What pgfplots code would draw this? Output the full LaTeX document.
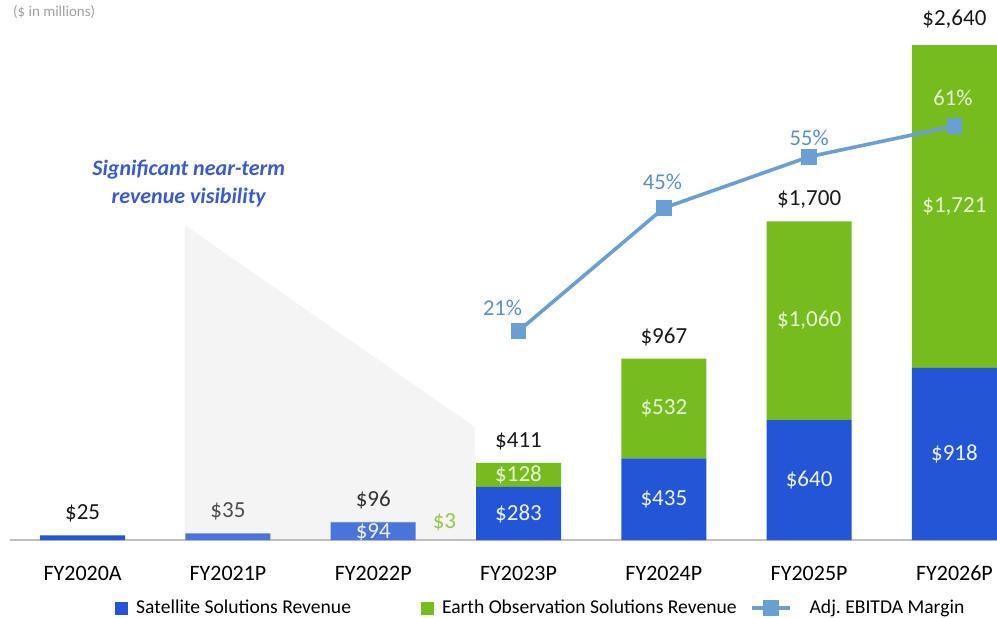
\documentclass[border=0pt]{standalone}
\usepackage{fontspec}
\setmainfont{Carlito}
\usepackage{pgfplots}
\pgfplotsset{compat=1.18}
\definecolor{satblue}{HTML}{2355D6}
\definecolor{satlight}{HTML}{4A74DC}
\definecolor{eogreen}{HTML}{77BC1F}
\definecolor{lineblue}{HTML}{6A9FD4}
\definecolor{pctblue}{HTML}{5B8FCB}
\definecolor{notblue}{HTML}{3A5BD0}
\definecolor{wedgegray}{HTML}{F4F4F4}
\definecolor{lblgreen}{HTML}{E6F4D6}
\definecolor{lblblue}{HTML}{EEF2FC}

\pgfplotsset{
  base/.style={at={(5pt,38.5pt)}, anchor=south west,
    width=493.5pt, height=262.5pt, scale only axis,
    xmin=-0.5, xmax=6.293, clip=false},
}
\tikzset{lbl/.style={font=\fontsize{11.5}{13}\selectfont}}

\begin{document}
\begin{tikzpicture}
\useasboundingbox (0,0) rectangle (498.5pt,308.5pt);
\node[anchor=west, text=gray!75, font=\fontsize{7.5}{9}\selectfont] at (3pt,302.5pt) {(\$ in millions)};

% shaded visibility wedge (behind everything)
\begin{axis}[base, ymin=0, ymax=2800, hide axis]
\fill[wedgegray] (axis cs:0.702,0) -- (axis cs:0.702,1680)
  -- (axis cs:2.698,603) -- (axis cs:2.698,0) -- cycle;
\node[font=\bfseries\itshape\fontsize{11}{14}\selectfont, text=notblue, align=center]
  at (axis cs:0.73,1899) {Significant near-term\\revenue visibility};
\end{axis}

\begin{axis}[base, ymin=0, ymax=2800,
  ybar stacked, bar width=0.585,
  axis x line*=bottom, axis y line=none,
  x axis line style={-, draw=black!25, line width=1pt},
  xtick={0,...,6},
  xticklabels={FY2020A,FY2021P,FY2022P,FY2023P,FY2024P,FY2025P,FY2026P},
  major tick length=0pt, ytick=\empty,
  xticklabel style={anchor=center, yshift=-16.5pt, font=\fontsize{11}{13}\selectfont},
]
% Satellite Solutions Revenue
\addplot[fill=satblue, draw=none]
  coordinates {(0,25) (1,0) (2,0) (3,283) (4,435) (5,640) (6,918)};
% Satellite Solutions Revenue, under the shaded wedge
\addplot[fill=satlight, draw=none]
  coordinates {(0,0) (1,35) (2,94) (3,0) (4,0) (5,0) (6,0)};
% Earth Observation Solutions Revenue
\addplot[fill=eogreen, draw=none]
  coordinates {(0,0) (1,0) (2,3) (3,128) (4,532) (5,1060) (6,1721)};
\end{axis}

% labels over the bars
\begin{axis}[base, ymin=0, ymax=2800, hide axis]
\node[lbl, text=black!90, yshift=11pt] at (axis cs:0,25) {\$25};
\node[lbl, text=black!70, yshift=11pt] at (axis cs:1,35) {\$35};
\node[lbl, text=black!80, yshift=11pt] at (axis cs:2,96) {\$96};
\node[lbl, text=black!90, yshift=11pt] at (axis cs:3,411) {\$411};
\node[lbl, text=black!90, yshift=11pt] at (axis cs:4,967) {\$967};
\node[lbl, text=black!90, yshift=11pt] at (axis cs:5,1700) {\$1,700};
\node[lbl, text=black!90, yshift=13pt] at (axis cs:6,2640) {\$2,640};

\node[lbl, text=lblblue] at (axis cs:2,40) {\$94};
\node[lbl, text=eogreen!80] at (axis cs:2.49,96) {\$3};
\node[lbl, text=lblblue] at (axis cs:3,141) {\$283};
\node[lbl, text=lblgreen] at (axis cs:3,347) {\$128};
\node[lbl, text=lblblue] at (axis cs:4,217) {\$435};
\node[lbl, text=lblgreen] at (axis cs:4,701) {\$532};
\node[lbl, text=lblblue] at (axis cs:5,320) {\$640};
\node[lbl, text=lblgreen] at (axis cs:5,1170) {\$1,060};
\node[lbl, text=lblblue] at (axis cs:6,459) {\$918};
\node[lbl, text=lblgreen] at (axis cs:6,1779) {\$1,721};
\end{axis}

\begin{axis}[base, ymin=-19.79, ymax=82.66, hide axis,
  legend style={draw=none, fill=none, inner sep=0pt, at={(0.1064,-0.1295)}, anchor=west,
    legend columns=3, font=\fontsize{9.8}{11}\selectfont,
    nodes={inner sep=0pt}, column sep=0pt},
  legend cell align=left,
]
\addlegendimage{legend image code/.code={\fill[satblue] (0pt,-3pt) rectangle (6pt,3pt);}}
\addlegendimage{legend image code/.code={\fill[eogreen] (0pt,-3pt) rectangle (6pt,3pt);}}
% Adj. EBITDA Margin (%)
\addplot[lineblue, line width=1.8pt, mark=square*, mark size=3pt,
  legend image code/.code={
    \draw[lineblue, line width=1.8pt] (0pt,0pt) -- (19pt,0pt);
    \fill[lineblue] (6.5pt,-3pt) rectangle (12.5pt,3pt);}]
  coordinates {(3,21) (4,45) (5,55) (6,61)};
\legend{\hspace{4pt}\makebox[142.5pt][l]{Satellite Solutions Revenue},
  \hspace{4pt}\makebox[154pt][l]{Earth Observation Solutions Revenue},
  \hspace{9pt}Adj.\ EBITDA Margin}

\node[font=\fontsize{11.3}{13}\selectfont, text=pctblue] at (axis cs:2.89,25.5) {21\%};
\node[font=\fontsize{11.3}{13}\selectfont, text=pctblue] at (axis cs:3.99,50.1) {45\%};
\node[font=\fontsize{11.3}{13}\selectfont, text=pctblue] at (axis cs:5.00,58.65) {55\%};
\node[font=\fontsize{11.3}{13}\selectfont, text=lblgreen] at (axis cs:5.99,66.5) {61\%};
\end{axis}
\end{tikzpicture}
\end{document}
